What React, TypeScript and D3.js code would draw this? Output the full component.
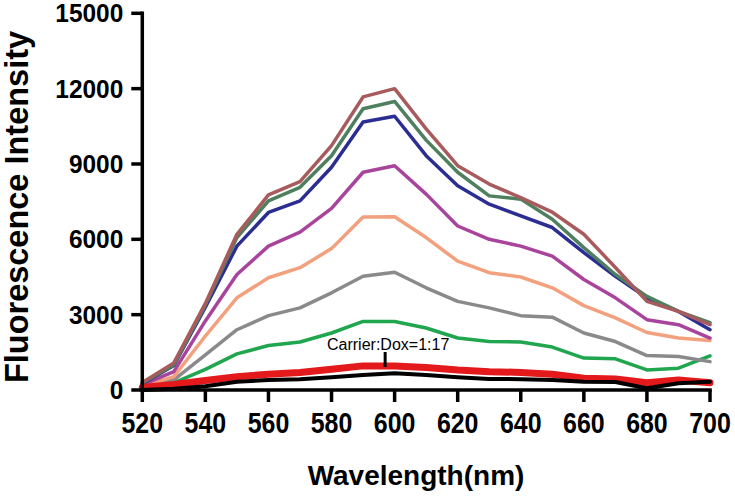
import React from "react";
import * as d3 from "d3";

const wavelengths = [520, 530, 540, 550, 560, 570, 580, 590, 600, 610, 620, 630, 640, 650, 660, 670, 680, 690, 700];

const brownSeries = [300, 1080, 3450, 6200, 7770, 8300, 9730, 11670, 12000, 10400, 8930, 8200, 7660, 7080, 6200, 4880, 3530, 3130, 2600];
const greenGraySeries = [280, 1000, 3380, 6070, 7530, 8070, 9330, 11200, 11490, 9950, 8670, 7730, 7600, 6800, 5670, 4600, 3730, 3130, 2680];
const navySeries = [250, 980, 3300, 5730, 7070, 7530, 8870, 10670, 10900, 9330, 8130, 7400, 6930, 6470, 5470, 4530, 3670, 3130, 2400];
const magentaSeries = [200, 730, 2750, 4600, 5730, 6290, 7230, 8670, 8930, 7800, 6530, 6000, 5730, 5330, 4400, 3670, 2800, 2600, 2070];
const salmonSeries = [150, 530, 2150, 3670, 4470, 4870, 5630, 6890, 6900, 6070, 5130, 4670, 4500, 4070, 3360, 2870, 2290, 2070, 1970];
const graySeries = [100, 400, 1400, 2400, 2960, 3270, 3870, 4530, 4690, 4070, 3530, 3270, 2960, 2900, 2270, 1930, 1370, 1330, 1130];
const greenSeries = [50, 280, 820, 1440, 1770, 1910, 2270, 2730, 2730, 2470, 2070, 1930, 1910, 1710, 1270, 1240, 800, 870, 1360];
const redSeries = [100, 220, 380, 530, 630, 700, 830, 960, 960, 900, 800, 730, 700, 630, 470, 440, 290, 400, 290];
const blackSeries = [0, 50, 150, 330, 400, 430, 510, 600, 670, 600, 510, 440, 430, 400, 330, 320, 70, 270, 330];

const xTicks = [520, 540, 560, 580, 600, 620, 640, 660, 680, 700];
const yTicks = [0, 3000, 6000, 9000, 12000, 15000];

const annotationText = "Carrier:Dox=1:17";
const annotationWavelength = 597;
const xTitle = "Wavelength(nm)";
const yTitle = "Fluorescence Intensity";

const series = [
  { values: greenSeries, color: "#1fa64e", width: 3.5 },
  { values: graySeries, color: "#8a8a8c", width: 3.5 },
  { values: salmonSeries, color: "#f2a07e", width: 3.5 },
  { values: magentaSeries, color: "#a8449c", width: 3.5 },
  { values: navySeries, color: "#2b2d92", width: 3.5 },
  { values: greenGraySeries, color: "#4e7f5e", width: 3.5 },
  { values: brownSeries, color: "#a85b5c", width: 3.5 },
  { values: redSeries, color: "#e3191c", width: 7 },
  { values: blackSeries, color: "#000000", width: 4 },
];

export default function App() {
  const x = d3.scaleLinear().domain([520, 700]).range([142.3, 710]);
  const y = d3.scaleLinear().domain([0, 15000]).range([390, 13.3]);
  const line = d3
    .line<number>()
    .x((_, i) => x(wavelengths[i]))
    .y((d) => y(d));
  const font = "'Liberation Sans', Arial, Helvetica, sans-serif";
  const axisW = 3.5;

  return (
    <svg
      width={735}
      height={496}
      style={{ position: "absolute", left: 0, top: 0, background: "#fff" }}
      fontFamily={font}
    >
      <rect x={0} y={0} width={735} height={496} fill="#fff" />
      {series.map((s, i) => (
        <path
          key={i}
          d={line(s.values) || ""}
          fill="none"
          stroke={s.color}
          strokeWidth={s.width}
          strokeLinejoin="round"
          strokeLinecap="round"
        />
      ))}

      {/* annotation */}
      <text x={327} y={350} fontSize={16} fill="#000">
        {annotationText}
      </text>
      <line
        x1={x(annotationWavelength)}
        x2={x(annotationWavelength)}
        y1={352}
        y2={367}
        stroke="#000"
        strokeWidth={3}
      />

      {/* axes */}
      <line x1={x(520)} x2={x(520)} y1={y(15000) - axisW / 2} y2={y(0) + axisW / 2} stroke="#000" strokeWidth={axisW} />
      <line x1={x(520) - axisW / 2} x2={x(700) + axisW / 2} y1={y(0)} y2={y(0)} stroke="#000" strokeWidth={axisW} />
      {yTicks.map((t) => (
        <g key={"y" + t}>
          <line x1={x(520) - 11} x2={x(520)} y1={y(t)} y2={y(t)} stroke="#000" strokeWidth={axisW} />
          <text
            transform={`translate(${x(520) - 19},${y(t) + 9}) scale(0.94,1)`}
            textAnchor="end"
            fontSize={26}
            fontWeight="bold"
            fill="#000"
          >
            {t}
          </text>
        </g>
      ))}
      {xTicks.map((t) => (
        <g key={"x" + t}>
          <line x1={x(t)} x2={x(t)} y1={y(0)} y2={y(0) + 12} stroke="#000" strokeWidth={axisW} />
          <text
            transform={`translate(${x(t)},${433}) scale(0.86,1)`}
            textAnchor="middle"
            fontSize={29}
            fontWeight="bold"
            fill="#000"
          >
            {t}
          </text>
        </g>
      ))}

      {/* titles */}
      <text x={416} y={485} textAnchor="middle" fontSize={28} fontWeight="bold" fill="#000">
        {xTitle}
      </text>
      <text
        transform={`translate(28,${207}) rotate(-90)`}
        textAnchor="middle"
        fontSize={32.5}
        fontWeight="bold"
        fill="#000"
      >
        {yTitle}
      </text>
    </svg>
  );
}
